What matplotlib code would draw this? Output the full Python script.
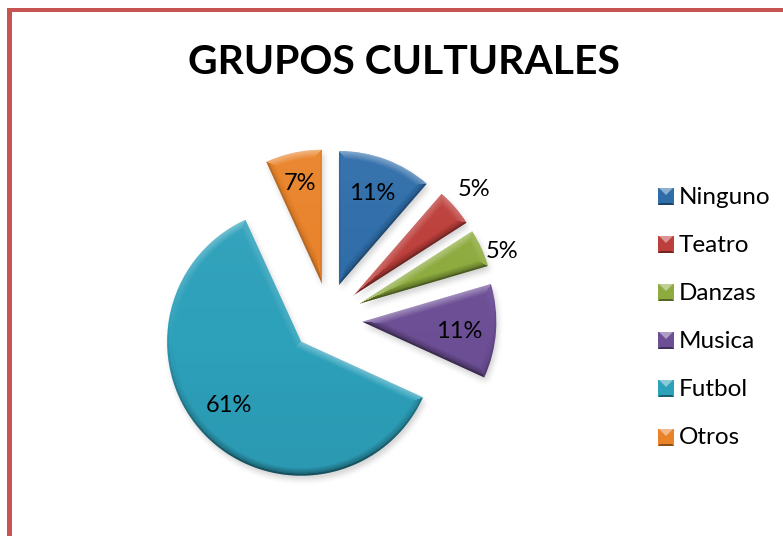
import numpy as np
import matplotlib
matplotlib.use("Agg")
from matplotlib import pyplot as plt
from matplotlib.patches import Rectangle, Polygon

W, H = 783, 536

labels = ["Ninguno", "Teatro", "Danzas", "Musica", "Futbol", "Otros"]
values = [5, 2, 2, 5, 27, 3]
colors = ["#2F6DA9", "#BC3F3B", "#8DAB3E", "#6D4F96", "#2DA0BA", "#E9832A"]
explode = [30.3, 31, 33, 33, 40, 30.3]
# the reference slices sit a little off the mid-angle line
nudge = [(0, 0), (2, -2), (1, -4), (1, -6), (1, 0), (0, 0)]
label_pos = [(372, 193), (474, 189), (502, 251), (459, 331), (229, 405), (300, 183)]
title = "GRUPOS CULTURALES"

plt.rcParams["font.family"] = ["Lato", "DejaVu Sans"]
fig = plt.figure(figsize=(W / 100, H / 100), dpi=100)
ax = fig.add_axes([0, 0, 1, 1])

wedges, _, pct = ax.pie(values, colors=colors, explode=explode, startangle=90,
                        counterclock=False, center=(328.4, H - 313.4), radius=134,
                        autopct="%.0f%%", textprops={"fontsize": 17, "color": "black"},
                        wedgeprops={"linewidth": 0})
for w, (nx, ny_) in zip(wedges, nudge):
    w.set_center((w.center[0] + nx, w.center[1] + ny_))
for t, (px, py) in zip(pct, label_pos):
    t.set_position((px, H - py))
    t.set_zorder(5)

# bevel + shadow as overlays, worked out from the wedges the pie made
xx, yy = np.meshgrid(np.arange(W) + 0.5, np.arange(H) + 0.5)
shade = np.zeros((H, W))
cover = np.zeros((H, W))
BEVEL = 8.0
for w in wedges:
    cx, cy = w.center
    dx, dy = xx - cx, yy - cy
    dist = np.hypot(dx, dy)
    a1, a2 = np.radians(w.theta1), np.radians(w.theta2)
    # inward distance to each edge, a1 -> a2 runs counterclockwise
    d1 = dx * -np.sin(a1) + dy * np.cos(a1)
    d2 = dx * np.sin(a2) - dy * np.cos(a2)
    d3 = w.r - dist
    if a2 - a1 < np.pi:
        inside = np.minimum(d1, d2)
        first = d1 <= d2
    else:
        inside = np.maximum(d1, d2)
        first = d1 >= d2
    edge = np.minimum(inside, d3)
    mask = np.clip(edge + 0.5, 0, 1)
    # outward normal's y part for the nearest edge
    ny = np.where(first, -np.cos(a1), np.cos(a2))
    ny = np.where(d3 < inside, dy / np.maximum(dist, 1), ny)
    prof = np.clip(1 - edge / BEVEL, 0, 1)
    s = (ny + 0.15 * (ny - 1) * (edge < 2)) * prof
    # soft top-to-bottom darkening of the face
    s = s + 0.12 * (dy / w.r)
    shade = np.where(mask > 0, s, shade)
    cover = np.maximum(cover, mask)

img = np.zeros((H, W, 4))
img[..., :3] = (shade > 0)[..., None] * 1.0
strength = np.where(shade > 0, 0.38, 0.42)
img[..., 3] = np.clip(np.abs(shade) * strength, 0, 0.5) * cover
ax.imshow(img, extent=(0, W, 0, H), origin="lower", zorder=3, aspect="auto",
          interpolation="nearest")

# soft shadow under the slices
sh = np.roll(np.roll(cover, -4, axis=0), 2, axis=1)
kernel = np.ones(7) / 7
for _ in range(2):
    sh = np.apply_along_axis(lambda r: np.convolve(r, kernel, mode="same"), 0, sh)
    sh = np.apply_along_axis(lambda r: np.convolve(r, kernel, mode="same"), 1, sh)
sh_img = np.zeros((H, W, 4))
sh_img[..., 3] = sh * 0.18
ax.imshow(sh_img, extent=(0, W, 0, H), origin="lower", zorder=0.5, aspect="auto")

# legend
leg_y = [197, 245, 293, 341, 389, 438]
for lab, col, y in zip(labels, colors, leg_y):
    x0, x1 = 658, 674
    y0, y1 = H - y - 8, H - y + 9
    ax.add_patch(Rectangle((x0, y0), x1 - x0, y1 - y0, fc=col, ec="none", zorder=3))
    ax.add_patch(Polygon([(x0 + 1, y1), (x1 - 1, y1), (x0 + 8, y1 - 7)], fc="white", alpha=0.45, ec="none", zorder=4))
    ax.add_patch(Polygon([(x0, y0), (x1, y0), (x1 - 2, y0 + 2), (x0 + 2, y0 + 2)], fc="black", alpha=0.4, ec="none", zorder=4))
    ax.text(679, H - y, lab, fontsize=17.5, va="center", ha="left", color="black", zorder=5)

ax.text(404, H - 63, title, fontsize=29.4, fontweight="bold", ha="center", va="center", color="black", zorder=5)

# sheet border
ax.add_patch(Rectangle((7, 0), 5, H - 8, fc="#C75451", ec="none", zorder=6))
ax.add_patch(Rectangle((7, H - 12), W - 7, 4, fc="#C75451", ec="none", zorder=6))

ax.set_xlim(0, W)
ax.set_ylim(0, H)
ax.set_aspect("auto")
ax.axis("off")
fig.savefig("out.png", dpi=100)
